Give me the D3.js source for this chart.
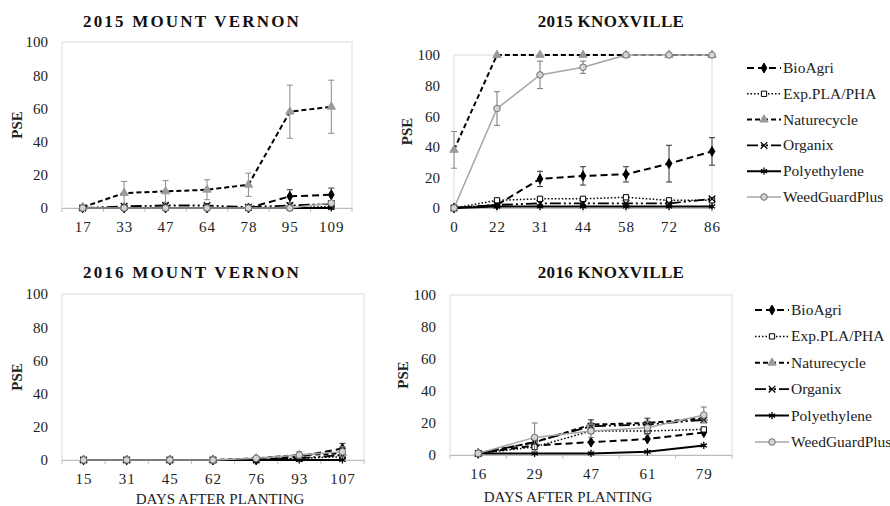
<!DOCTYPE html>
<html>
<head>
<meta charset="utf-8">
<script src="https://cdn.jsdelivr.net/npm/d3@7"></script>
<style>
  body { margin: 0; background: #fff; }
  svg, svg text { font-family: "Liberation Serif", "Times New Roman", serif; }
  .tick text { fill: #222; }
</style>
</head>
<body>
<div id="graph"></div>
<script>
// series order: BioAgri, Exp.PLA/PHA, Naturecycle, Organix, Polyethylene, WeedGuardPlus
var seriesNames = ["BioAgri", "Exp.PLA/PHA", "Naturecycle", "Organix", "Polyethylene", "WeedGuardPlus"];
var yTicks = [0, 20, 40, 60, 80, 100];

var mv2015Days = ["17", "33", "47", "64", "78", "95", "109"];
var mv2015Values = [
  [0, 0, 0, 0, 0, 7, 8],
  [0, 0, 0, 0, 0, 0, 1],
  [0.5, 9, 10, 11, 14, 58, 61],
  [0, 1, 1.5, 1.5, 0.5, 1.5, 2.5],
  [0, 0, 0, 0, 0, 0, 0],
  [0, 0, 0, 0, 0, 0, 3]
];
var mv2015Err = [
  [0, 0, 0, 0, 0, 4, 4],
  [0, 0, 0, 0, 0, 0, 0],
  [0, 7, 6.5, 6, 7, 16, 16],
  [0, 0, 0, 0, 0, 0, 0],
  [0, 0, 0, 0, 0, 0, 0],
  [0, 0, 0, 0, 0, 0, 0]
];

var kx2015Days = ["0", "22", "31", "44", "58", "72", "86"];
var kx2015Values = [
  [0, 2, 19, 21, 22, 29, 37],
  [0, 5, 6, 6, 7, 5, 5],
  [38, 100, 100, 100, 100, 100, 100],
  [0, 2, 3, 3, 3, 3, 6],
  [0, 1, 1, 1, 1, 1, 1],
  [0, 65, 87, 92, 100, 100, 100]
];
var kx2015Err = [
  [0, 0, 5, 6, 5, 12, 9],
  [0, 0, 0, 0, 0, 0, 0],
  [12, 0, 0, 0, 0, 0, 0],
  [0, 0, 0, 0, 0, 0, 0],
  [0, 0, 0, 0, 0, 0, 0],
  [0, 11, 9, 4, 0, 0, 0]
];

var mv2016Days = ["15", "31", "45", "62", "76", "93", "107"];
var mv2016Values = [
  [0, 0, 0, 0, 0, 2, 7],
  [0, 0, 0, 0, 0, 1, 2],
  [0, 0, 0, 0, 1, 3, 4],
  [0, 0, 0, 0, 0, 1, 3],
  [0, 0, 0, 0, 0, 0, 0],
  [0, 0, 0, 0, 1, 3, 5]
];
var mv2016Err = [
  [0, 0, 0, 0, 0, 0, 3],
  [0, 0, 0, 0, 0, 0, 0],
  [0, 0, 0, 0, 0, 0, 4],
  [0, 0, 0, 0, 0, 0, 0],
  [0, 0, 0, 0, 0, 0, 0],
  [0, 0, 0, 0, 0, 2, 3]
];

var kx2016Days = ["16", "29", "47", "61", "79"];
var kx2016Values = [
  [1, 6, 8, 10, 14],
  [1, 5, 15, 15, 16],
  [1, 8, 19, 20, 23],
  [1, 8, 18, 19, 22],
  [1, 1, 1, 2, 6],
  [1, 11, 15, 17, 25]
];
var kx2016Err = [
  [0, 0, 0, 0, 0],
  [0, 0, 0, 0, 0],
  [0, 0, 0, 0, 0],
  [0, 0, 4, 4, 0],
  [0, 0, 0, 0, 0],
  [0, 9, 4, 4, 5]
];

var styles = [
  {dash: "7,4", width: 2, color: "#000", sym: d3.symbolDiamond, size: 28, fill: "#000", stroke: "#000", err: "#333"},
  {dash: "1.5,2", width: 1.5, color: "#000", sym: d3.symbolSquare, size: 28, fill: "#fff", stroke: "#000", err: "#333"},
  {dash: "5,3", width: 2, color: "#000", sym: d3.symbolTriangle, size: 30, fill: "#9a9a9a", stroke: "#9a9a9a", err: "#8a8a8a"},
  {dash: "11,3,2,3,2,3", width: 1.8, color: "#000", sym: d3.symbolTimes, size: 30, fill: "none", stroke: "#000", err: "#333"},
  {dash: null, width: 2, color: "#000", sym: d3.symbolAsterisk, size: 36, fill: "none", stroke: "#000", err: "#333"},
  {dash: null, width: 1.5, color: "#a6a6a6", sym: d3.symbolCircle, size: 34, fill: "#d4d4d4", stroke: "#6f6f6f", err: "#777"}
];

var svg = d3.select("#graph").append("svg")
    .attr("width", 890)
    .attr("height", 506);

var serif = "'Liberation Serif', 'Times New Roman', serif";

function drawPanel(opts) {
  var x = d3.scalePoint().domain(opts.days).range([opts.left, opts.right]).padding(opts.pad);
  var y = d3.scaleLinear().domain([0, 100]).range([opts.bottom, opts.top]);
  var g = svg.append("g");

  // frame
  g.append("rect")
    .attr("x", opts.left).attr("y", opts.top)
    .attr("width", opts.right - opts.left).attr("height", opts.bottom - opts.top)
    .attr("fill", "none").attr("stroke", "#dcdcdc");

  g.append("g")
    .attr("transform", "translate(0," + opts.bottom + ")")
    .call(d3.axisBottom(x).tickSize(0).tickPadding(13))
    .call(function(a) {
      a.attr("font-family", serif);
      a.select(".domain").attr("stroke", "#bdbdbd");
      a.selectAll("text").style("font-size", "15px").attr("letter-spacing", "1px");
    });

  // boundary tick marks
  var bounds = opts.pad > 0
    ? d3.range(opts.days.length + 1).map(function(i) { return opts.left + i * x.step(); })
    : opts.days.map(function(d) { return x(d); });
  g.selectAll(".btick").data(bounds).enter().append("line")
    .attr("x1", function(d) { return d; }).attr("x2", function(d) { return d; })
    .attr("y1", opts.bottom).attr("y2", opts.bottom + 4)
    .attr("stroke", "#bdbdbd");

  g.append("g")
    .attr("transform", "translate(" + opts.left + ",0)")
    .call(d3.axisLeft(y).tickValues(yTicks).tickSize(0).tickPadding(14))
    .call(function(a) {
      a.attr("font-family", serif);
      a.select(".domain").remove();
      a.selectAll("text").style("font-size", "15px");
    });

  g.append("text")
    .attr("transform", "translate(" + opts.yLabelX + "," + ((opts.top + opts.bottom) / 2) + ") rotate(-90)")
    .attr("text-anchor", "middle")
    .style("font-size", "15px")
    .style("font-weight", "bold")
    .attr("fill", "#222")
    .text("PSE");

  g.append("text")
    .attr("x", opts.titleX).attr("y", opts.titleY)
    .attr("text-anchor", "middle")
    .style("font-size", "17px")
    .style("font-weight", "bold")
    .attr("letter-spacing", opts.titleSpacing + "px")
    .attr("fill", "#111")
    .text(opts.title);

  if (opts.xTitle) {
    g.append("text")
      .attr("x", opts.xTitleX).attr("y", opts.xTitleY)
      .attr("text-anchor", "middle")
      .style("font-size", "15px")
      .attr("fill", "#222")
      .text("DAYS AFTER PLANTING");
  }

  var line = d3.line()
    .x(function(d) { return x(d.day); })
    .y(function(d) { return y(d.v); });

  opts.values.forEach(function(vals, si) {
    var st = styles[si];
    var pts = vals.map(function(v, i) { return {day: opts.days[i], v: v, e: opts.err[si][i]}; });

    // error bars
    pts.filter(function(p) { return p.e > 0; }).forEach(function(p) {
      var px = x(p.day);
      var y1 = y(Math.min(100, p.v + p.e)), y2 = y(Math.max(0, p.v - p.e));
      g.append("line").attr("x1", px).attr("x2", px).attr("y1", y1).attr("y2", y2)
        .attr("stroke", st.err).attr("stroke-width", 1);
      [y1, y2].forEach(function(yy) {
        g.append("line").attr("x1", px - 3).attr("x2", px + 3).attr("y1", yy).attr("y2", yy)
          .attr("stroke", st.err).attr("stroke-width", 1);
      });
    });

    g.append("path")
      .datum(pts)
      .attr("fill", "none")
      .attr("stroke", st.color)
      .attr("stroke-width", st.width)
      .attr("stroke-dasharray", st.dash)
      .attr("d", line);

    g.selectAll(".m" + si).data(pts).enter().append("path")
      .attr("transform", function(d) { return "translate(" + x(d.day) + "," + y(d.v) + ")"; })
      .attr("d", d3.symbol().type(st.sym).size(st.size))
      .attr("fill", st.fill)
      .attr("stroke", st.stroke)
      .attr("stroke-width", st.fill === "none" ? 1.3 : 1);
  });
}

function drawLegend(lx, ly, step) {
  seriesNames.forEach(function(name, i) {
    var st = styles[i];
    var yy = ly + i * step;
    svg.append("line")
      .attr("x1", lx).attr("x2", lx + 34).attr("y1", yy).attr("y2", yy)
      .attr("stroke", st.color).attr("stroke-width", st.width)
      .attr("stroke-dasharray", st.dash);
    svg.append("path")
      .attr("transform", "translate(" + (lx + 17) + "," + yy + ")")
      .attr("d", d3.symbol().type(st.sym).size(st.size))
      .attr("fill", st.fill)
      .attr("stroke", st.stroke)
      .attr("stroke-width", st.fill === "none" ? 1.3 : 1);
    svg.append("text")
      .attr("x", lx + 36).attr("y", yy + 5)
      .style("font-size", "15.5px")
      .attr("fill", "#222")
      .text(name);
  });
}

drawPanel({days: mv2015Days, values: mv2015Values, err: mv2015Err, left: 62, right: 352, pad: 0.5,
  top: 42, bottom: 208, title: "2015 MOUNT VERNON", titleX: 192, titleY: 27, titleSpacing: 2.2, yLabelX: 22});
drawPanel({days: kx2015Days, values: kx2015Values, err: kx2015Err, left: 454, right: 712, pad: 0,
  top: 55, bottom: 208, title: "2015 KNOXVILLE", titleX: 611, titleY: 27, titleSpacing: 0.3, yLabelX: 412});
drawPanel({days: mv2016Days, values: mv2016Values, err: mv2016Err, left: 62, right: 364, pad: 0.5,
  top: 294, bottom: 460, title: "2016 MOUNT VERNON", titleX: 192, titleY: 278, titleSpacing: 2.2, yLabelX: 22,
  xTitle: true, xTitleX: 220, xTitleY: 504});
drawPanel({days: kx2016Days, values: kx2016Values, err: kx2016Err, left: 450, right: 732, pad: 0.5,
  top: 295, bottom: 455, title: "2016 KNOXVILLE", titleX: 611, titleY: 278, titleSpacing: 0.3, yLabelX: 408,
  xTitle: true, xTitleX: 568, xTitleY: 502});

drawLegend(747, 68, 25.8);
drawLegend(755, 310, 26.4);
</script>
</body>
</html>
